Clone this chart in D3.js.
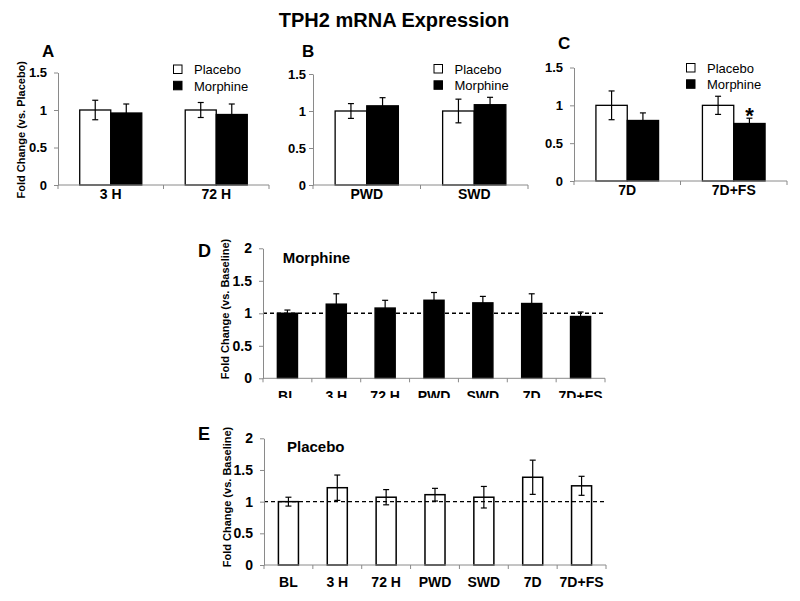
<!DOCTYPE html>
<html><head><meta charset="utf-8">
<script src="https://cdn.jsdelivr.net/npm/d3@7"></script>
<style>
html,body{margin:0;padding:0;background:#fff;}
svg text{font-family:"Liberation Sans",Arial,Helvetica,sans-serif;}
</style></head>
<body><div id="chart"></div>
<script>
// ---------- DATA ----------
const chartTitle = "TPH2 mRNA Expression";
const seriesNames = ["Placebo", "Morphine"];
const yTicksTop = [0, 0.5, 1, 1.5];
const yTicksBottom = [0, 0.5, 1, 1.5, 2];

const catsA = ["3 H", "72 H"];
const placeboA = [1.0, 1.0];
const placeboErrA = [0.13, 0.10];
const morphineA = [0.96, 0.94];
const morphineErrA = [0.12, 0.14];

const catsB = ["PWD", "SWD"];
const placeboB = [1.0, 1.0];
const placeboErrB = [0.10, 0.16];
const morphineB = [1.07, 1.085];
const morphineErrB = [0.11, 0.10];

const catsC = ["7D", "7D+FS"];
const placeboC = [1.0, 1.0];
const placeboErrC = [0.19, 0.12];
const morphineC = [0.80, 0.76];
const morphineErrC = [0.10, 0.07];
const sigC = ["", "*"]; // significance marks on morphine bars

const timeCats = ["BL", "3 H", "72 H", "PWD", "SWD", "7D", "7D+FS"];
const morphineD = [1.0, 1.14, 1.08, 1.2, 1.16, 1.15, 0.95];
const morphineErrD = [0.05, 0.16, 0.12, 0.12, 0.10, 0.15, 0.07];
const placeboE = [1.0, 1.22, 1.07, 1.11, 1.07, 1.385, 1.25];
const placeboErrE = [0.07, 0.20, 0.12, 0.10, 0.17, 0.27, 0.15];
const baselineRef = 1;

// ---------- DRAW ----------
const W = 800, H = 601;
const svg = d3.select("#chart").append("svg").attr("width", W).attr("height", H);
const AXIS_GRAY = "#8a8a8a";
const fills = {Placebo: "#fff", Morphine: "#000"};

svg.append("text").attr("x", 394).attr("y", 27).attr("text-anchor", "middle")
  .attr("font-size", 20).attr("font-weight", "bold").text(chartTitle);

function yAxis(g, y, ticks, pad) {
  const ax = d3.axisLeft(y).tickValues(ticks).tickSize(4).tickSizeOuter(0).tickPadding(pad)
    .tickFormat(d => String(d));
  g.call(ax);
  g.select(".domain").attr("stroke", AXIS_GRAY);
  g.selectAll(".tick line").attr("stroke", AXIS_GRAY);
  g.selectAll(".tick text").attr("font-size", 13).attr("font-weight", "bold").attr("fill", "#000")
    .attr("font-family", "'Liberation Sans',Arial,sans-serif");
}

function xAxis(g, x, yPix, labelY, fontSize) {
  const r = x.range();
  g.append("line").attr("x1", r[0]).attr("x2", r[1]).attr("y1", yPix).attr("y2", yPix)
    .attr("stroke", AXIS_GRAY);
  const n = x.domain().length;
  d3.range(n + 1).forEach(i => {
    const xx = r[0] + i * x.step();
    g.append("line").attr("x1", xx).attr("x2", xx).attr("y1", yPix).attr("y2", yPix + 4)
      .attr("stroke", AXIS_GRAY);
  });
  g.selectAll("text.cat").data(x.domain()).join("text").attr("class", "cat")
    .attr("x", d => x(d) + x.bandwidth() / 2).attr("y", labelY)
    .attr("text-anchor", "middle").attr("font-size", fontSize).attr("font-weight", "bold").text(d => d);
}

function errBar(g, cx, y, v, e, cap) {
  g.append("line").attr("x1", cx).attr("x2", cx).attr("y1", y(v - e)).attr("y2", y(v + e))
    .attr("stroke", "#000").attr("stroke-width", 1.2);
  [v - e, v + e].forEach(t => g.append("line").attr("x1", cx - cap).attr("x2", cx + cap)
    .attr("y1", y(t)).attr("y2", y(t)).attr("stroke", "#000").attr("stroke-width", 1.2));
}

function groupedPanel(opt) {
  const g = svg.append("g");
  const x = d3.scaleBand().domain(opt.cats).range([opt.x0, opt.x1]).padding(0);
  const x1 = d3.scaleBand().domain(seriesNames).range([0, x.bandwidth()]).paddingInner(0).paddingOuter(0.7);
  const y = d3.scaleLinear().domain([0, 1.5]).range([opt.yb, opt.yt]);
  const series = {Placebo: [opt.pl, opt.plE], Morphine: [opt.mo, opt.moE]};
  seriesNames.forEach(s => {
    opt.cats.forEach((c, i) => {
      const v = series[s][0][i];
      g.append("rect").attr("x", x(c) + x1(s)).attr("width", x1.bandwidth())
        .attr("y", y(v)).attr("height", y(0) - y(v))
        .attr("fill", fills[s]).attr("stroke", "#000").attr("stroke-width", 1.3);
    });
  });
  seriesNames.forEach(s => {
    opt.cats.forEach((c, i) => {
      errBar(g, x(c) + x1(s) + x1.bandwidth() / 2, y, series[s][0][i], series[s][1][i], 3);
    });
  });
  if (opt.sig) {
    opt.cats.forEach((c, i) => {
      if (!opt.sig[i]) return;
      const v = opt.mo[i] + opt.moE[i];
      g.append("text").attr("x", x(c) + x1("Morphine") + x1.bandwidth() / 2).attr("y", y(v) + 5)
        .attr("text-anchor", "middle").attr("font-size", 22).attr("font-weight", "bold").text(opt.sig[i]);
    });
  }
  yAxis(g.append("g").attr("transform", `translate(${opt.x0},0)`), y, yTicksTop, opt.pad);
  xAxis(g, x, opt.yb, opt.labelY, 14);
  // letter
  g.append("text").attr("x", opt.letterX).attr("y", opt.letterY).attr("font-size", 17)
    .attr("font-weight", "bold").text(opt.letter);
  // legend
  seriesNames.forEach((s, i) => {
    g.append("rect").attr("x", opt.legX).attr("y", opt.legY + i * 16.3).attr("width", 8.5).attr("height", 8.5)
      .attr("fill", fills[s]).attr("stroke", "#000").attr("stroke-width", 1);
    g.append("text").attr("x", opt.legX + 20.5).attr("y", opt.legY + i * 16.3 + 9.3)
      .attr("font-size", 13).text(s);
  });
  if (opt.yTitle) {
    g.append("text").attr("transform", `translate(${opt.yTitleX},${(opt.yb + opt.yt) / 2 + 1}) rotate(-90)`)
      .attr("text-anchor", "middle").attr("dy", "0.35em").attr("font-size", 11).attr("font-weight", "bold")
      .text(opt.yTitle);
  }
}

groupedPanel({cats: catsA, pl: placeboA, plE: placeboErrA, mo: morphineA, moE: morphineErrA,
  x0: 58, x1: 269, yb: 185, yt: 72.5, pad: 7, labelY: 198.5, letter: "A", letterX: 42, letterY: 57,
  legX: 173.5, legY: 65, yTitle: "Fold Change (vs. Placebo)", yTitleX: 21.5});
groupedPanel({cats: catsB, pl: placeboB, plE: placeboErrB, mo: morphineB, moE: morphineErrB,
  x0: 313, x1: 528, yb: 185, yt: 74, pad: 3, labelY: 198.5, letter: "B", letterX: 302, letterY: 57,
  legX: 434, legY: 64.5});
groupedPanel({cats: catsC, pl: placeboC, plE: placeboErrC, mo: morphineC, moE: morphineErrC, sig: sigC,
  x0: 574, x1: 787, yb: 181, yt: 67.5, pad: 7, labelY: 195, letter: "C", letterX: 558, letterY: 48.5,
  legX: 686.5, legY: 63.5});

function timePanel(opt) {
  const g = svg.append("g");
  const x = d3.scaleBand().domain(timeCats).range([opt.x0, opt.x1]).paddingInner(0.59).paddingOuter(0.295);
  const y = d3.scaleLinear().domain([0, 2]).range([opt.yb, opt.yt]);
  timeCats.forEach((c, i) => {
    const v = opt.vals[i];
    g.append("rect").attr("x", x(c)).attr("width", x.bandwidth()).attr("y", y(v)).attr("height", y(0) - y(v))
      .attr("fill", opt.fill).attr("stroke", "#000").attr("stroke-width", 1.5);
  });
  g.append("line").attr("x1", opt.x0).attr("x2", opt.x1).attr("y1", y(baselineRef)).attr("y2", y(baselineRef))
    .attr("stroke", "#000").attr("stroke-width", 1.4).attr("stroke-dasharray", "4,3");
  timeCats.forEach((c, i) => errBar(g, x(c) + x.bandwidth() / 2, y, opt.vals[i], opt.errs[i], 3));
  yAxis(g.append("g").attr("transform", `translate(${opt.x0},0)`), y, yTicksBottom, 7);
  g.selectAll(".tick text").attr("font-size", 14);
  const xg = g.append("g");
  if (opt.clipY) {
    const id = "clip" + opt.letter;
    svg.append("clipPath").attr("id", id).append("rect").attr("x", 0).attr("y", 0).attr("width", W).attr("height", opt.clipY);
    xg.attr("clip-path", `url(#${id})`);
  }
  xAxis(xg, x, opt.yb, opt.labelY, 14);
  g.append("text").attr("x", 198).attr("y", opt.letterY).attr("font-size", 18).attr("font-weight", "bold").text(opt.letter);
  g.append("text").attr("x", opt.subX).attr("y", opt.subY).attr("font-size", 15).attr("font-weight", "bold").text(opt.sub);
  g.append("text").attr("transform", `translate(${opt.yTitleX},${opt.yTitleY}) rotate(-90)`)
    .attr("text-anchor", "middle").attr("dy", "0.35em").attr("font-size", 11).attr("font-weight", "bold")
    .text("Fold Change (vs. Baseline)");
}

timePanel({vals: morphineD, errs: morphineErrD, fill: "#000", x0: 263, x1: 605, yb: 378.3, yt: 248.3,
  labelY: 400.7, clipY: 398, letter: "D", letterY: 257, sub: "Morphine", subX: 282.7, subY: 263,
  yTitleX: 225, yTitleY: 309});
timePanel({vals: placeboE, errs: placeboErrE, fill: "#fff", x0: 264, x1: 606, yb: 565, yt: 438.3,
  labelY: 586.7, letter: "E", letterY: 440, sub: "Placebo", subX: 287, subY: 451.7,
  yTitleX: 227, yTitleY: 497});
</script>
</body></html>
